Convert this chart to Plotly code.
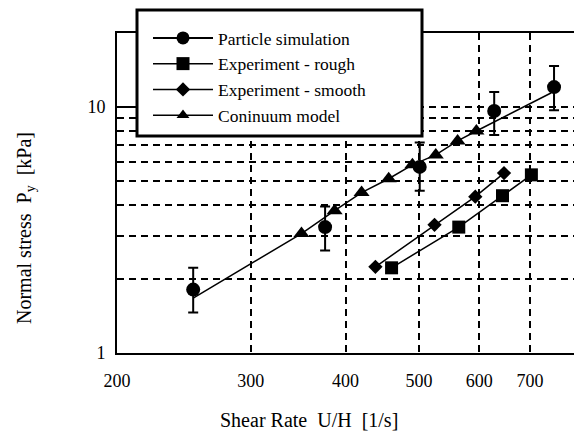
import plotly.graph_objects as go

# Particle simulation (circles with error bars)
ps_x = [252, 376, 501, 628, 753]
ps_y = [1.81, 3.25, 5.71, 9.63, 12.05]
ps_err_hi = [2.22, 3.94, 7.17, 11.5, 14.7]
ps_err_lo = [1.46, 2.61, 4.57, 7.7, 9.7]

# Experiment - rough (squares)
er_x = [460, 564, 644, 703]
er_y = [2.22, 3.25, 4.36, 5.30]

# Experiment - smooth (diamonds)
es_x = [438, 524, 593, 647]
es_y = [2.24, 3.32, 4.32, 5.39]

# Continuum model (line with triangles; endpoints are line-only)
cm_x = [252, 350, 387, 420, 456, 490, 526, 562, 595, 746]
cm_y = [1.67, 3.06, 3.79, 4.49, 5.11, 5.82, 6.39, 7.28, 7.99, 11.4]
cm_marker = [0, 1, 1, 1, 1, 1, 1, 1, 1, 0]

x_ticks = [200, 300, 400, 500, 600, 700]
y_ticks = [1, 10]
y_minor = [2, 3, 4, 5, 6, 7, 8, 9]

FONT = "Liberation Serif, Times New Roman, serif"
DASH = "7px,5px"

# plot-area pixel geometry (for placing paper-referenced items)
L, R, T, B = 117, 574, 33, 353
def px(x):
    return (x - L) / (R - L)
def py(y):
    return (B - y) / (B - T)

fig = go.Figure()

# legend-only entry for particle simulation (line + circle)
fig.add_trace(go.Scatter(
    x=[None], y=[None], mode="lines+markers", name="Particle simulation",
    legendgroup="a",
    line=dict(color="black", width=2),
    marker=dict(symbol="circle", size=13, color="black"),
))
fig.add_trace(go.Scatter(
    x=ps_x, y=ps_y, mode="markers", showlegend=False, legendgroup="a",
    marker=dict(symbol="circle", size=14, color="black", opacity=1),
    error_y=dict(type="data", symmetric=False,
                 array=[h - v for h, v in zip(ps_err_hi, ps_y)],
                 arrayminus=[v - l for l, v in zip(ps_err_lo, ps_y)],
                 color="black", thickness=2, width=5),
))
fig.add_trace(go.Scatter(
    x=er_x, y=er_y, mode="lines+markers", name="Experiment - rough",
    legendgroup="b",
    line=dict(color="black", width=1.5),
    marker=dict(symbol="square", size=13, color="black", opacity=1),
))
fig.add_trace(go.Scatter(
    x=es_x, y=es_y, mode="lines+markers", name="Experiment - smooth",
    legendgroup="c",
    line=dict(color="black", width=1.5),
    marker=dict(symbol="diamond", size=11, color="black", opacity=1),
))
fig.add_trace(go.Scatter(
    x=cm_x, y=cm_y, mode="lines+markers", name="Coninuum model",
    legendgroup="d",
    line=dict(color="black", width=1.5),
    marker=dict(symbol="triangle-up", size=[14 * m for m in cm_marker],
                color="black", opacity=1, line=dict(width=0)),
))

fig.update_layout(
    width=574, height=438,
    margin=dict(l=L, r=574 - R, t=T, b=438 - B),
    paper_bgcolor="white", plot_bgcolor="white",
    font=dict(family=FONT, size=18, color="black"),
    showlegend=True,
    legend=dict(
        x=px(148), y=py(20), xanchor="left", yanchor="top",
        bgcolor="rgba(0,0,0,0)", borderwidth=0,
        font=dict(family=FONT, size=17.5, color="black"),
        tracegroupgap=0, itemwidth=60,
    ),
    shapes=[
        dict(type="rect", xref="paper", yref="paper", layer="above",
             x0=px(137), x1=px(422), y0=py(136), y1=py(10),
             fillcolor="white", line=dict(color="black", width=3)),
    ],
    xaxis=dict(
        type="log", range=[2.30103, 2.90309],
        tickvals=x_ticks, ticktext=[str(v) for v in x_ticks],
        showline=True, linecolor="black", linewidth=2, mirror=True,
        showgrid=True, gridcolor="black", gridwidth=1.5, griddash=DASH,
        ticks="", ticklabelstandoff=10, zeroline=False,
        tickfont=dict(family=FONT, size=18, color="black"),
    ),
    yaxis=dict(
        type="log", range=[0, 1.30103],
        tickvals=y_ticks, ticktext=[str(v) for v in y_ticks],
        showline=True, linecolor="black", linewidth=2, mirror=False,
        showgrid=True, gridcolor="black", gridwidth=1.5, griddash=DASH,
        ticks="inside", ticklen=15, tickwidth=2, tickcolor="black",
        ticklabelstandoff=6, zeroline=False,
        tickfont=dict(family=FONT, size=18, color="black"),
        minor=dict(tickvals=y_minor, showgrid=True, gridcolor="black",
                   gridwidth=1.5, griddash=DASH, ticks=""),
    ),
    annotations=[
        dict(text="Shear Rate  U/H  [1/s]", xref="paper", yref="paper",
             x=px(309), y=py(420), xanchor="center", yanchor="middle",
             showarrow=False, font=dict(family=FONT, size=20, color="black")),
        dict(text="Normal stress  P<sub>y</sub>  [kPa]", xref="paper", yref="paper",
             x=px(25), y=py(228), xanchor="center", yanchor="middle",
             textangle=-90, showarrow=False, font=dict(family=FONT, size=20, color="black")),
    ],
)

fig.write_html("out.html")
